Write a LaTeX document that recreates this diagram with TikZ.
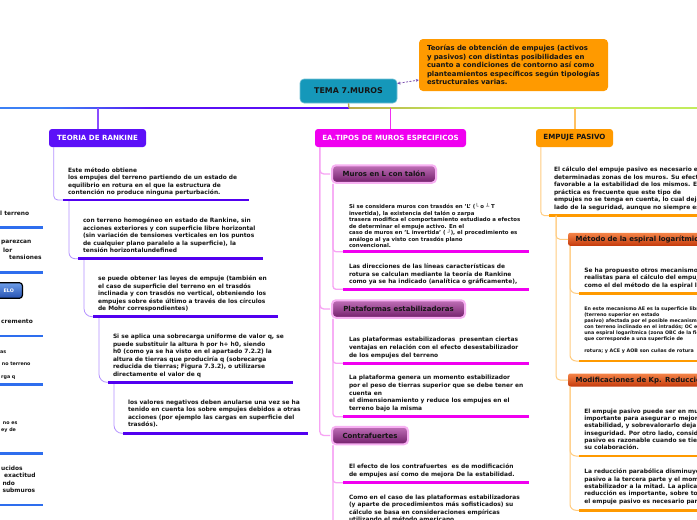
\documentclass[tikz,border=0pt]{standalone}
\usepackage{fontspec}
\setmainfont{DejaVu Sans}
\usetikzlibrary{arrows.meta}
\definecolor{rootc}{HTML}{1598BA}
\definecolor{notec}{HTML}{FF9A00}
\definecolor{rankc}{HTML}{5C10F8}
\definecolor{eac}{HTML}{F000F0}
\definecolor{pasc}{HTML}{FF9A00}
\definecolor{ulRc}{HTML}{5200F0}
\definecolor{ulEc}{HTML}{F000F0}
\definecolor{ulPc}{HTML}{FF9A00}
\definecolor{ulBc}{HTML}{2E6EEE}
\definecolor{cRc}{HTML}{B592FF}
\definecolor{cEc}{HTML}{F7A4F4}
\definecolor{cPc}{HTML}{FFCC80}
\definecolor{stubR}{HTML}{8A4CFF}
\definecolor{stubE}{HTML}{F030F0}
\definecolor{stubP}{HTML}{FFC060}
\definecolor{mlblue}{HTML}{3C80F5}
\definecolor{mlpurple}{HTML}{5A10F5}
\definecolor{mlolive}{HTML}{B8A848}
\definecolor{mlgreen}{HTML}{C2EC5C}
\definecolor{glowE}{HTML}{F7B0F2}
\definecolor{eTop}{HTML}{C070B8}
\definecolor{eMid}{HTML}{9A3A90}
\definecolor{eBot}{HTML}{721E6A}
\definecolor{pTop}{HTML}{F58448}
\definecolor{pMid}{HTML}{E8561E}
\definecolor{pBot}{HTML}{C43A0C}
\definecolor{dashc}{HTML}{7B50B0}
\definecolor{btnTop}{HTML}{6E9EEA}
\definecolor{btnBot}{HTML}{2550B0}
\definecolor{inkc}{HTML}{151515}
\tikzset{
  txt/.style={anchor=north west, inner sep=0pt, outer sep=0pt, align=left, text=inkc, font=\bfseries\fontsize{5.9}{7.5}\selectfont},
  smalltxt/.style={txt, font=\bfseries\fontsize{5.4}{6.5}\selectfont},
  tinytxt/.style={txt, font=\bfseries\fontsize{4.8}{5.9}\selectfont},
  lefttxt/.style={anchor=west, inner sep=0pt, text=inkc, font=\bfseries\fontsize{5.9}{7.5}\selectfont},
  lefttiny/.style={anchor=west, inner sep=0pt, text=inkc, font=\bfseries\fontsize{4.8}{5.9}\selectfont},
  mainbox/.style={rounded corners=3pt, minimum height=18pt, inner sep=0pt, font=\bfseries\fontsize{7.1}{8}\selectfont},
  subE/.style={rounded corners=4pt, draw=glowE, line width=2pt, top color=eTop, middle color=eMid, bottom color=eBot, minimum height=17.5pt, inner sep=0pt, text=inkc, font=\bfseries\fontsize{7}{8}\selectfont},
  subP/.style={anchor=west, rounded corners=2pt, top color=pTop, middle color=pMid, bottom color=pBot, minimum height=13pt, inner ysep=0pt, inner xsep=7.5pt, text width=200pt, align=left, text=inkc, font=\bfseries\fontsize{7}{8}\selectfont},
  ulR/.style={draw=ulRc, line width=2.5pt},
  ulE/.style={draw=ulEc, line width=2.5pt},
  ulP/.style={draw=ulPc, line width=2.5pt},
  ulB/.style={draw=ulBc, line width=2.5pt},
  cR/.style={draw=cRc, line width=0.8pt},
  cE/.style={draw=cEc, line width=1.3pt},
  cP/.style={draw=cPc, line width=1pt},
}
\begin{document}
\begin{tikzpicture}[x=1pt,y=-1pt]
\useasboundingbox (0,0) rectangle (697,520);
\fill[white] (0,0) rectangle (697,520);
\clip (0,0) rectangle (697,520);

% main horizontal line
\fill[mlblue] (0,107.2) rectangle (61,108.8);
\shade[left color=mlblue,right color=mlpurple] (60,107.2) rectangle (151,108.8);
\fill[mlpurple] (150,107.2) rectangle (349.5,108.8);
\shade[left color=mlolive,right color=mlgreen] (349,107.2) rectangle (461,108.8);
\fill[mlgreen] (460,107.2) rectangle (697,108.8);

% root and note
\node[rounded corners=4pt, fill=rootc, draw=rootc!60!white, line width=0.6pt, minimum width=97pt, minimum height=24pt, inner sep=0pt, text=inkc, font=\bfseries\fontsize{7.9}{9}\selectfont] (root) at (348.5,91) {TEMA 7.MUROS};
\node[rounded corners=4pt, fill=notec, minimum width=189pt, minimum height=52pt, inner xsep=8pt, inner ysep=0pt, text width=173pt, align=left, text=inkc, font=\bfseries\fontsize{6.9}{8.6}\selectfont] (note) at (513.5,65)
{Teorías de obtención de empujes (activos\\y pasivos) con distintas posibilidades en\\cuanto a condiciones de contorno así como\\planteamientos específicos según tipologías\\estructurales varias.};
\draw[dashc, line width=0.8pt, dash pattern=on 2pt off 1.5pt, {Stealth[length=3pt,width=3pt]}-{Stealth[length=3pt,width=3pt]}] ([yshift=7.5pt]root.east) -- ([yshift=-15pt]note.west);

\coordinate (mRoot) at (349,108);
\draw[mlolive, line width=1.3pt] (root.south) -- (mRoot);

% branch boxes
\node[mainbox, fill=rankc, text=white, minimum width=97pt] (rank) at (97.5,138) {TEORIA DE RANKINE};
\node[mainbox, fill=eac, text=white, minimum width=151pt] (ea) at (390.5,138) {EA.TIPOS DE MUROS ESPECIFICOS};
\node[mainbox, fill=pasc, text=inkc, minimum width=77pt] (pas) at (574.5,138) {EMPUJE PASIVO};

\coordinate (mR) at (98,108);
\coordinate (mE) at (390.5,108);
\coordinate (mP) at (575,108);
\draw[stubR, line width=1.2pt] (mR) -- (rank.north -| mR);
\draw[stubE, line width=1.2pt] (mE) -- (ea.north -| mE);
\draw[stubP, line width=1.2pt] (mP) -- (pas.north -| mP);

% ---------------- Rankine chain
\node[txt] (t1) at (68,167.3) {Este método obtiene\\los empujes del terreno partiendo de un estado de\\equilibrio en rotura en el que la estructura de\\contención no produce ninguna perturbación.};
\node[txt] (t2) at (83,218.2) {con terreno homogéneo en estado de Rankine, sin\\acciones exteriores y con superficie libre horizontal\\(sin variación de tensiones verticales en los puntos\\de cualquier plano paralelo a la superficie), la\\tensión horizontalundefined};
\node[txt] (t3) at (98,276.2) {se puede obtener las leyes de empuje (también en\\el caso de superficie del terreno en el trasdós\\inclinada y con trasdós no vertical, obteniendo los\\empujes sobre éste último a través de los círculos\\de Mohr correspondientes)};
\node[txt] (t4) at (113,334.2) {Si se aplica una sobrecarga uniforme de valor q, se\\puede substituir la altura h por h+ h0, siendo\\h0 (como ya se ha visto en el apartado 7.2.2) la\\altura de tierras que produciría q (sobrecarga\\reducida de tierras; Figura 7.3.2), o utilizarse\\directamente el valor de q};
\node[txt] (t5) at (128,399.9) {los valores negativos deben anularse una vez se ha\\tenido en cuenta los sobre empujes debidos a otras\\acciones (por ejemplo las cargas en superficie del\\trasdós).};
\coordinate (t1a) at (63,200);    \coordinate (t1b) at (249,200);
\coordinate (t2a) at (78,258.7);  \coordinate (t2b) at (263,258.7);
\coordinate (t3a) at (93,316.7);  \coordinate (t3b) at (278,316.7);
\coordinate (t4a) at (108,382.3); \coordinate (t4b) at (293,382.3);
\coordinate (t5a) at (123,433.3); \coordinate (t5b) at (308,433.3);
\draw[cR, rounded corners=4pt] ([xshift=5pt]rank.south west) |- (t1a);
\draw[cR, rounded corners=6pt] ([xshift=6pt]t1a) |- (t2a);
\draw[cR, rounded corners=8pt] ([xshift=6pt]t2a) |- (t3a);
\draw[cR, rounded corners=8pt] ([xshift=6pt]t3a) |- (t4a);
\draw[cR, rounded corners=8pt] ([xshift=6pt]t4a) |- (t5a);
\draw[ulR] (t1a) -- (t1b);
\draw[ulR] (t2a) -- (t2b);
\draw[ulR] (t3a) -- (t3b);
\draw[ulR] (t4a) -- (t4b);
\draw[ulR] (t5a) -- (t5b);

% ---------------- EA branch
\node[subE, minimum width=104pt] (muros) at (384,174) {Muros en L con talón};
\node[subE, minimum width=133pt] (plat) at (398.5,309) {Plataformas estabilizadoras};
\node[subE, minimum width=76pt] (contra) at (370,435.5) {Contrafuertes};
\draw[cE, rounded corners=4pt] ([xshift=5pt]ea.south west) |- ([xshift=-1pt]muros.west);
\draw[cE, rounded corners=4pt] ([xshift=5pt]ea.south west) |- ([xshift=-1pt]plat.west);
\draw[cE, rounded corners=4pt] ([xshift=5pt]ea.south west) |- ([xshift=-1pt]contra.west);

\node[smalltxt] (e1) at (349,203.7) {Si se considera muros con trasdós en 'L' (└ o ┴ T\\invertida), la existencia del talón o zarpa\\trasera modifica el comportamiento estudiado a efectos\\de determinar el empuje activo. En el\\caso de muros en 'L invertida' ( ┘), el procedimiento es\\análogo al ya visto con trasdós plano\\convencional.};
\node[txt] (e2) at (349,263.9) {Las direcciones de las líneas características de\\rotura se calculan mediante la teoría de Rankine\\como ya se ha indicado (analítica o gráficamente),};
\node[txt, font=\bfseries\fontsize{5.9}{7.7}\selectfont] (e3) at (349,337.2) {Las plataformas estabilizadoras\ \ presentan ciertas\\ventajas en relación con el efecto desestabilizador\\de los empujes del terreno};
\node[txt, font=\bfseries\fontsize{5.9}{7.6}\selectfont] (e4) at (349,375.5) {La plataforma genera un momento estabilizador\\por el peso de tierras superior que se debe tener en\\cuenta en\\el dimensionamiento y reduce los empujes en el\\terreno bajo la misma};
\node[txt] (e5) at (349,463.9) {El efecto de los contrafuertes\ \ es de modificación\\de empujes así como de mejora De la estabilidad.};
\node[txt] (e6) at (349,494.9) {Como en el caso de las plataformas estabilizadoras\\(y aparte de procedimientos más sofisticados) su\\cálculo se basa en consideraciones empíricas\\utilizando el método americano};
\coordinate (e1a) at (343,251.7); \coordinate (e1b) at (529,251.7);
\coordinate (e2a) at (343,289.3); \coordinate (e2b) at (529,289.3);
\coordinate (e3a) at (343,363.3); \coordinate (e3b) at (529,363.3);
\coordinate (e4a) at (343,416.7); \coordinate (e4b) at (529,416.7);
\coordinate (e5a) at (343,482.7); \coordinate (e5b) at (529,482.7);
\coordinate (e6a) at (343,535);   \coordinate (e6b) at (529,535);
\draw[cE, rounded corners=3pt] ([xshift=2pt]muros.south west) |- (e1a);
\draw[cE, rounded corners=3pt] ([xshift=2pt]muros.south west) |- (e2a);
\draw[cE, rounded corners=3pt] ([xshift=2pt]plat.south west) |- (e3a);
\draw[cE, rounded corners=3pt] ([xshift=2pt]plat.south west) |- (e4a);
\draw[cE, rounded corners=3pt] ([xshift=2pt]contra.south west) |- (e5a);
\draw[cE, rounded corners=3pt] ([xshift=2pt]contra.south west) |- (e6a);
\draw[ulE] (e1a) -- (e1b);
\draw[ulE] (e2a) -- (e2b);
\draw[ulE] (e3a) -- (e3b);
\draw[ulE] (e4a) -- (e4b);
\draw[ulE] (e5a) -- (e5b);
\draw[ulE] (e6a) -- (e6b);

% ---------------- Empuje pasivo branch
\node[txt, font=\bfseries\fontsize{5.9}{7.46}\selectfont] (p1) at (554,167.2) {El cálculo del empuje pasivo es necesario en\\determinadas zonas de los muros. Su efecto es\\favorable a la estabilidad de los mismos. En la\\práctica es frecuente que este tipo de\\empujes no se tenga en cuenta, lo cual deja del\\lado de la seguridad, aunque no siempre es así.};
\coordinate (p1a) at (549,215.7); \coordinate (p1b) at (720,215.7);
\draw[cP, rounded corners=4pt] ([xshift=5pt]pas.south west) |- (p1a);
\draw[ulP] (p1a) -- (p1b);

\node[subP] (met) at (568,239.3) {Método de la espiral logarítmica};
\node[subP] (mod) at (568,380) {Modificaciones de Kp. Reducción parabólica};
\draw[cP, rounded corners=4pt] ([xshift=7pt]p1a) |- (met.west);
\draw[cP, rounded corners=4pt] ([xshift=7pt]p1a) |- (mod.west);

\node[txt, font=\bfseries\fontsize{5.9}{7.2}\selectfont] (p2) at (584.3,267.9) {Se ha propuesto otros mecanismos más\\realistas para el cálculo del empuje pasivo,\\como el del método de la espiral logarítmica};
\node[tinytxt] (p3) at (584.3,307.2) {En este mecanismo AE es la superficie libre\\(terreno superior en estado\\pasivo) afectada por el posible mecanismo de rotura\\con terreno inclinado en el intradós; OC es\\una espiral logarítmica (zona OBC de la figura)\\que corresponde a una superficie de\\[5.9pt]rotura; y ACE y AOB son cuñas de rotura};
\node[txt, font=\bfseries\fontsize{5.9}{7.3}\selectfont] (p4) at (584.3,408.9) {El empuje pasivo puede ser en muchos casos\\importante para asegurar o mejorar la\\estabilidad, y sobrevalorarlo deja del lado de la\\inseguridad. Por otro lado, considerar el empuje\\pasivo es razonable cuando se tiene seguridad de\\su colaboración.};
\node[txt, font=\bfseries\fontsize{5.9}{7.4}\selectfont] (p5) at (584.3,468.9) {La reducción parabólica disminuye el empuje\\pasivo a la tercera parte y el momento\\estabilizador a la mitad. La aplicación de esta\\reducción es importante, sobre todo cuando\\el empuje pasivo es necesario para la estabilidad};
\coordinate (p2a) at (579,293.3); \coordinate (p2b) at (720,293.3);
\coordinate (p3a) at (579,361);   \coordinate (p3b) at (720,361);
\coordinate (p4a) at (579,456);   \coordinate (p4b) at (720,456);
\coordinate (p5a) at (579,510.3); \coordinate (p5b) at (720,510.3);
\draw[cP, rounded corners=6pt] ([xshift=2pt]met.south west) |- (p2a);
\draw[cP, rounded corners=6pt] ([xshift=2pt]met.south west) |- (p3a);
\draw[cP, rounded corners=6pt] ([xshift=2pt]mod.south west) |- (p4a);
\draw[cP, rounded corners=6pt] ([xshift=2pt]mod.south west) |- (p5a);
\draw[ulP] (p2a) -- (p2b);
\draw[ulP] (p3a) -- (p3b);
\draw[ulP] (p4a) -- (p4b);
\draw[ulP] (p5a) -- (p5b);

% ---------------- left cut-off branch
\node[lefttxt] (l1) at (0,213) {l terreno};
\node[lefttxt] (l2a) at (1,242.7) {parezcan};
\node[lefttxt] (l2b) at (3,250) {lor};
\node[lefttxt] (l2c) at (9,257.5) {tensiones};
\node[anchor=east, rounded corners=3pt, draw=black, line width=1.2pt, top color=btnTop, bottom color=btnBot, minimum height=15.6pt, inner xsep=8.5pt, inner ysep=0pt, text width=40pt, align=right, text=white, font=\bfseries\fontsize{4.8}{5.5}\selectfont] (btn) at (23,290.5) {ELO};
\node[lefttxt] (l4) at (1,321.7) {cremento};
\node[lefttiny] (l5a) at (0,352.3) {as};
\node[lefttiny] (l5b) at (1.7,364.3) {no terreno};
\node[lefttiny] (l5c) at (1,377.7) {rga q};
\node[lefttiny] (l6a) at (2.7,423.3) {no es};
\node[lefttiny] (l6b) at (1,430) {ey de};
\node[lefttxt] (l7a) at (1,468.3) {ucidos};
\node[lefttxt] (l7b) at (4,475.7) {exactitud};
\node[lefttxt] (l7c) at (2.3,483) {ndo};
\node[lefttxt] (l7d) at (2.3,490.3) {submuros};
\coordinate (b1a) at (-5,227.7); \coordinate (b1b) at (43,227.7);
\coordinate (b2a) at (-5,272.3); \coordinate (b2b) at (43,272.3);
\coordinate (b3a) at (-5,336);   \coordinate (b3b) at (43,336);
\coordinate (b4a) at (-5,384.3); \coordinate (b4b) at (43,384.3);
\coordinate (b5a) at (-5,453.3); \coordinate (b5b) at (43,453.3);
\coordinate (b6a) at (-5,505);   \coordinate (b6b) at (43,505);
\draw[ulB] (b1a) -- (b1b);
\draw[ulB] (b2a) -- (b2b);
\draw[ulB] (b3a) -- (b3b);
\draw[ulB] (b4a) -- (b4b);
\draw[ulB] (b5a) -- (b5b);
\draw[ulB] (b6a) -- (b6b);
\end{tikzpicture}
\end{document}
